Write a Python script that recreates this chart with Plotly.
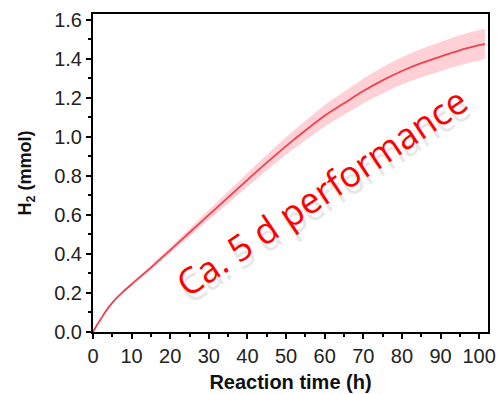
import plotly.graph_objects as go

# Reaction time (h)
time_h = [0, 1, 2, 3, 4, 6, 8, 10, 15, 20, 25, 30, 35, 40, 45, 50, 55, 60, 65, 70, 75, 80, 85, 90, 95, 100, 101.5]
# H2 evolved (mmol)
h2_mmol = [0, 0.035, 0.065, 0.097, 0.125, 0.172, 0.21, 0.245, 0.33, 0.42, 0.51, 0.60, 0.69, 0.78, 0.868, 0.953, 1.033, 1.108, 1.172, 1.235, 1.29, 1.338, 1.378, 1.412, 1.444, 1.47, 1.477]
# half-width of the shaded uncertainty band (mmol)
h2_err = [0, 0.001, 0.002, 0.003, 0.004, 0.005, 0.006, 0.008, 0.011, 0.015, 0.02, 0.025, 0.03, 0.035, 0.04, 0.045, 0.05, 0.055, 0.059, 0.063, 0.067, 0.07, 0.072, 0.075, 0.077, 0.078, 0.078]

x_ticks = [0, 10, 20, 30, 40, 50, 60, 70, 80, 90, 100]
y_ticks = [0.0, 0.2, 0.4, 0.6, 0.8, 1.0, 1.2, 1.4, 1.6]
y_tick_labels = ["0.0", "0.2", "0.4", "0.6", "0.8", "1.0", "1.2", "1.4", "1.6"]
note_text = "Ca. 5 d performance"

upper = [v + e for v, e in zip(h2_mmol, h2_err)]
lower = [v - e for v, e in zip(h2_mmol, h2_err)]

fig = go.Figure()
fig.add_trace(go.Scatter(x=time_h, y=upper, mode="lines", line=dict(width=0, shape="spline"),
                         showlegend=False, hoverinfo="skip"))
fig.add_trace(go.Scatter(x=time_h, y=lower, mode="lines", line=dict(width=0, shape="spline"),
                         fill="tonexty", fillcolor="rgba(255,120,135,0.35)",
                         showlegend=False, hoverinfo="skip"))
fig.add_trace(go.Scatter(x=time_h, y=h2_mmol, mode="lines", line=dict(color="#f0414f", width=1.8, shape="spline"),
                         showlegend=False))

axis_common = dict(
    showline=True, linecolor="#000000", linewidth=2, mirror=True,
    ticks="outside", ticklen=5, tickwidth=1.5, tickcolor="#000000",
    showgrid=False, zeroline=False, automargin=False,
    tickfont=dict(family="Liberation Sans, Arial", size=20, color="#222"),
)

fig.update_xaxes(range=[0, 102.3], tickvals=x_ticks,
                 minor=dict(ticks="outside", ticklen=3, tickwidth=1.5, tickcolor="#000000", dtick=5, tick0=0),
                 title=dict(text="<b>Reaction time (h)</b>", font=dict(family="Liberation Sans, Arial", size=20, color="#111"), standoff=9),
                 **axis_common)
fig.update_yaxes(range=[0, 1.63], tickvals=y_ticks, ticktext=y_tick_labels,
                 minor=dict(ticks="outside", ticklen=3, tickwidth=1.5, tickcolor="#000000", dtick=0.1, tick0=0),
                 title=dict(text="<b>H<sub>2</sub> (mmol)</b>", font=dict(family="Liberation Sans, Arial", size=18, color="#111"), standoff=18),
                 **axis_common)

# soft shadow under the note
fig.add_annotation(x=59.3, y=0.72, xref="x", yref="y", text=note_text, textangle=-34,
                   showarrow=False, xshift=3, yshift=-7,
                   font=dict(family="Open Sans", size=36, color="#e6e6e6"))
fig.add_annotation(x=59.3, y=0.72, xref="x", yref="y", text=note_text, textangle=-34,
                   showarrow=False,
                   font=dict(family="Open Sans", size=36, color="#ff0000"))

fig.update_layout(width=500, height=394, margin=dict(l=93, r=12, t=14, b=62),
                  plot_bgcolor="white", paper_bgcolor="white")

fig.write_html("out.html")
